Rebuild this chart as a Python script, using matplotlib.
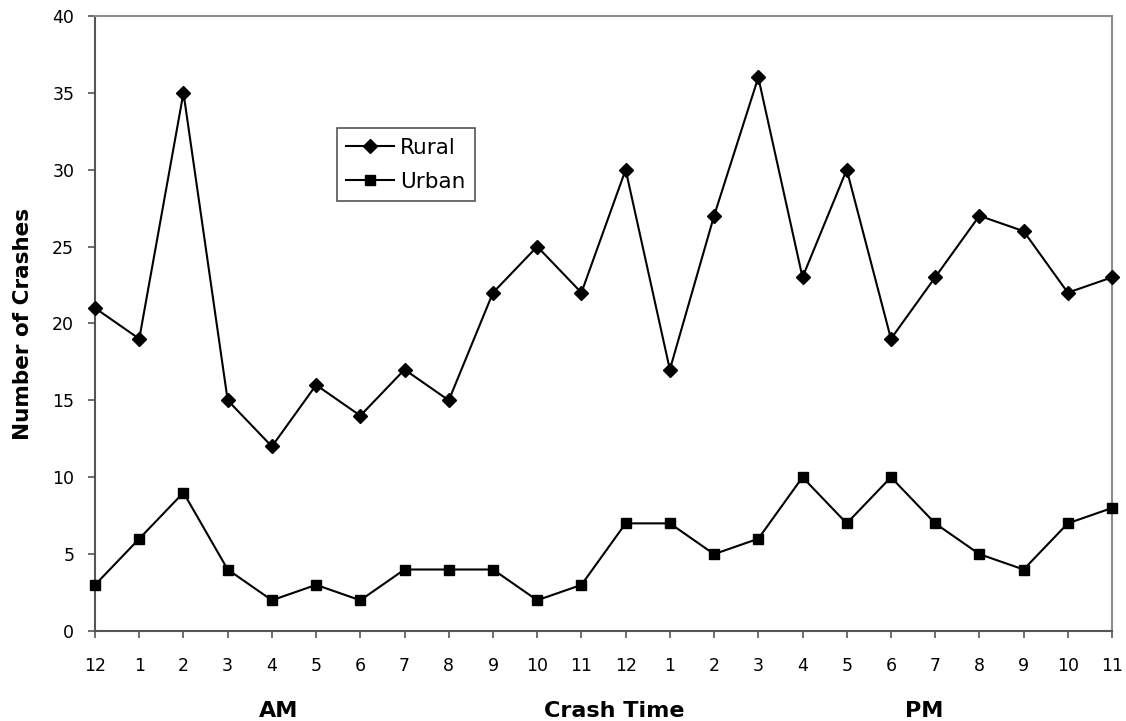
import matplotlib.pyplot as plt
from matplotlib.transforms import blended_transform_factory

plt.rcParams['font.family'] = ['DejaVu Sans']

# hour of day, 12 AM through 11 PM
hour_labels = ['12', '1', '2', '3', '4', '5', '6', '7', '8', '9', '10', '11',
               '12', '1', '2', '3', '4', '5', '6', '7', '8', '9', '10', '11']
rural = [21, 19, 35, 15, 12, 16, 14, 17, 15, 22, 25, 22,
         30, 17, 27, 36, 23, 30, 19, 23, 27, 26, 22, 23]
urban = [3, 6, 9, 4, 2, 3, 2, 4, 4, 4, 2, 3,
         7, 7, 5, 6, 10, 7, 10, 7, 5, 4, 7, 8]

x = list(range(len(hour_labels)))

fig = plt.figure(figsize=(11.26, 7.21), dpi=100)
ax = fig.add_axes([0.0844, 0.1248, 0.9032, 0.8532])

ax.plot(x, rural, color='black', lw=1.5, marker='D', ms=7, label='Rural', clip_on=False, zorder=3)
ax.plot(x, urban, color='black', lw=1.5, marker='s', ms=7, label='Urban', clip_on=False, zorder=3)

ax.set_xlim(0, 23)
ax.set_ylim(0, 40)
ax.set_xticks(x)
ax.set_xticklabels(hour_labels)
ax.set_yticks(range(0, 41, 5))
ax.tick_params(axis='both', labelsize=12.5, length=5, width=1.2, color='#555555')
ax.tick_params(axis='x', pad=14)
ax.tick_params(axis='y', pad=10)
for s in ['top', 'right']:
    ax.spines[s].set_color('#8c8c8c')
    ax.spines[s].set_linewidth(1.5)
for s in ['left', 'bottom']:
    ax.spines[s].set_color('#555555')
    ax.spines[s].set_linewidth(1.5)

ax.set_ylabel('Number of Crashes', fontsize=15.5, fontweight='bold', labelpad=14)

trans = blended_transform_factory(ax.transData, fig.transFigure)
ax.text(4.15, 0.006, 'AM', transform=trans, ha='center', va='baseline',
        fontsize=16, fontweight='bold')
ax.text(11.75, 0.006, 'Crash Time', transform=trans, ha='center', va='baseline',
        fontsize=16, fontweight='bold')
ax.text(18.75, 0.006, 'PM', transform=trans, ha='center', va='baseline',
        fontsize=16, fontweight='bold')

leg = ax.legend(loc='upper left', bbox_to_anchor=(0.2375, 0.818), fontsize=15.5,
                frameon=True, fancybox=False, edgecolor='#555555', framealpha=1,
                handlelength=2.2, handletextpad=0.3, borderpad=0.45,
                labelspacing=0.65, borderaxespad=0)
leg.get_frame().set_linewidth(1.2)

fig.savefig('out.png', dpi=100)
